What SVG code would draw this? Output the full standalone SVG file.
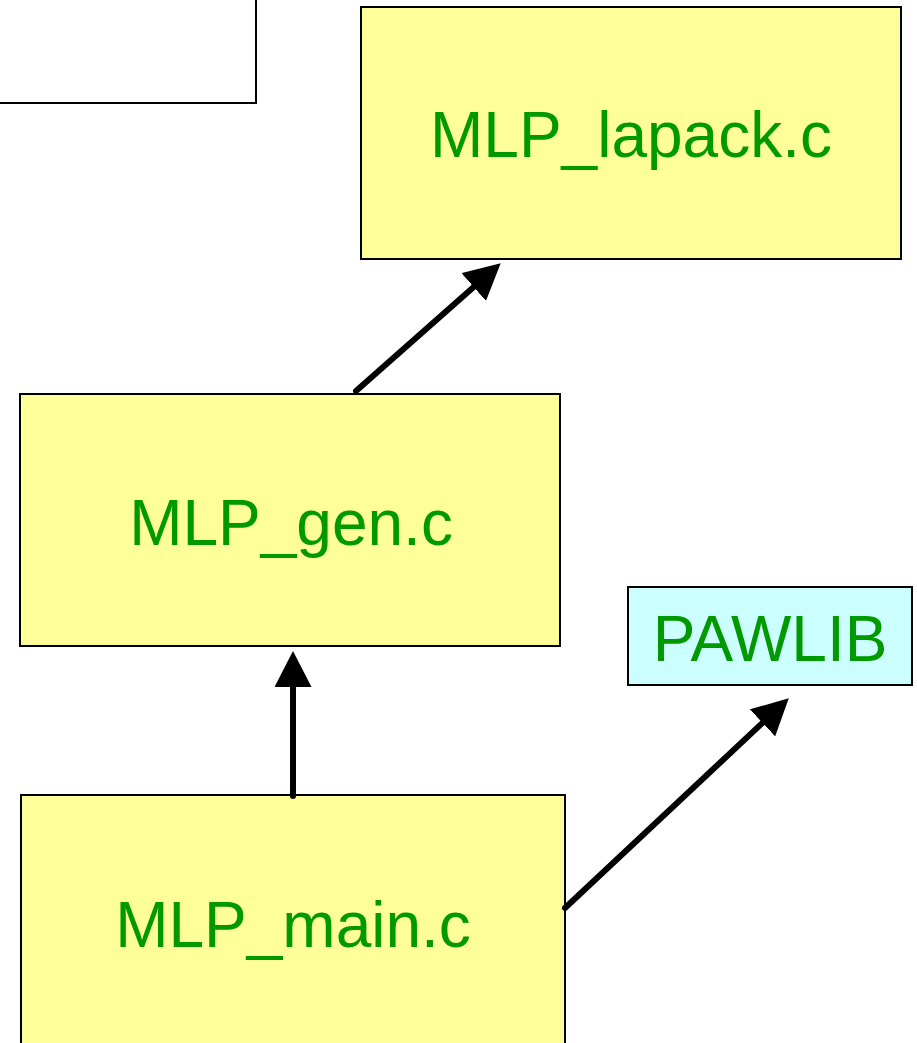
<svg xmlns="http://www.w3.org/2000/svg" width="917" height="1043" viewBox="0 0 917 1043">
<style>
.box{stroke:#000;stroke-width:2}
.yel{fill:#FFFF99}
.cyan{fill:#CCFFFF}
.lbl{font-family:"Liberation Sans",Arial,sans-serif;font-size:64px;fill:#009900;text-anchor:middle}
.conn{stroke:#000;stroke-width:6;stroke-linecap:round;fill:none}
</style>
<defs>
<marker id="ah" viewBox="0 0 36 37" refX="0" refY="18.5" markerWidth="36" markerHeight="37" markerUnits="userSpaceOnUse" orient="auto">
<path d="M0,0 L36,18.5 L0,37 z" fill="#000"/>
</marker>
</defs>
<rect width="917" height="1043" fill="#fff"/>
<g id="topleft">
<rect class="box" x="-10" y="-10" width="266" height="113" fill="#fff"/>
</g>
<g id="lapack">
<rect class="box yel" x="361" y="7" width="540" height="252"/>
<text class="lbl" x="631" y="157">MLP_lapack.c</text>
</g>
<g id="gen">
<rect class="box yel" x="20" y="394" width="540" height="252"/>
<text class="lbl" x="291" y="545">MLP_gen.c</text>
</g>
<g id="pawlib">
<rect class="box cyan" x="628" y="587" width="284" height="98"/>
<text class="lbl" x="770" y="661">PAWLIB</text>
</g>
<g id="main">
<rect class="box yel" x="21" y="795" width="544" height="260"/>
<text class="lbl" x="293" y="947">MLP_main.c</text>
</g>
<g id="connectors">
<line class="conn" x1="356" y1="391" x2="473.7" y2="287.1" marker-end="url(#ah)"/>
<line class="conn" x1="293" y1="796" x2="293" y2="687" marker-end="url(#ah)"/>
<line class="conn" x1="565" y1="908" x2="762.5" y2="722.9" marker-end="url(#ah)"/>
</g>
</svg>
